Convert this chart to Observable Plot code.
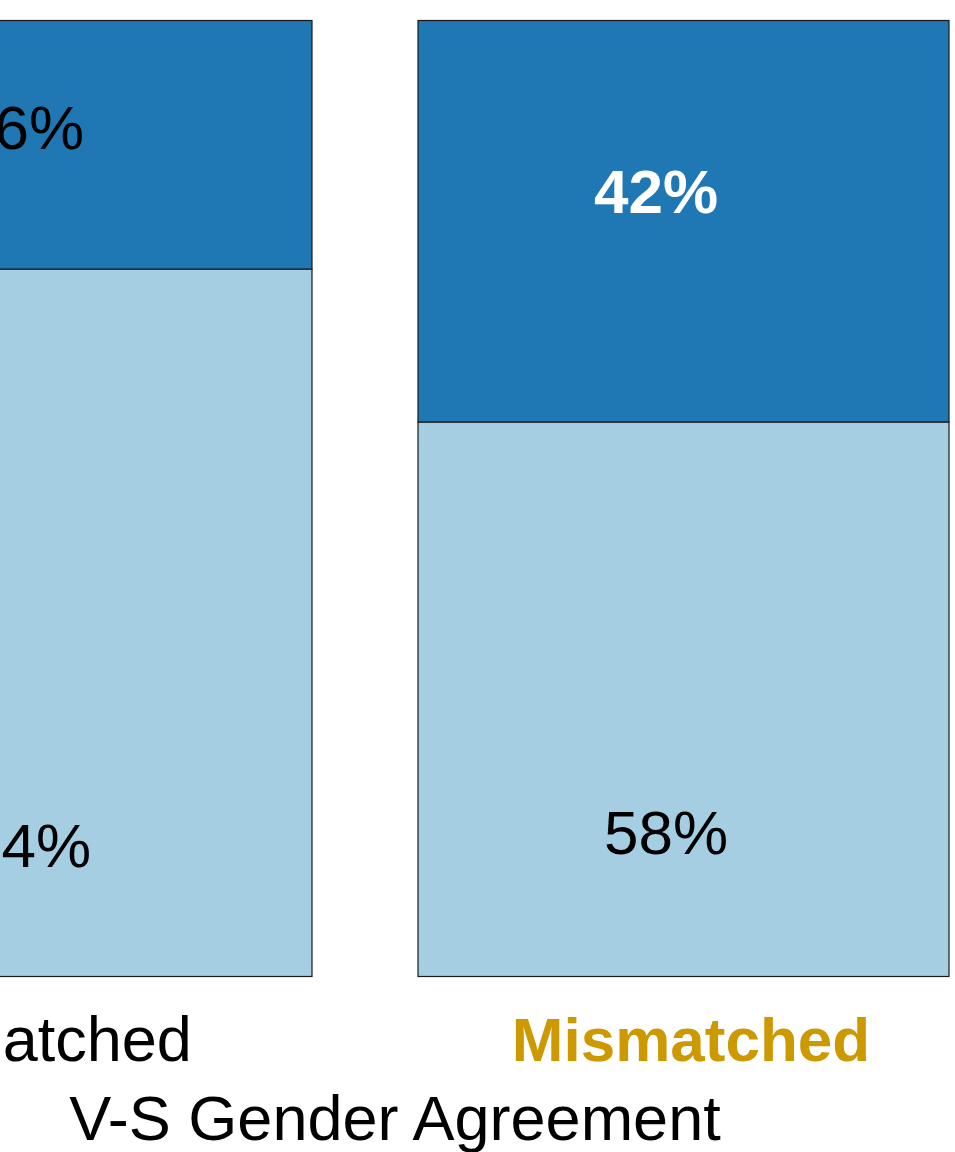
<!DOCTYPE html>
<html>
<head>
<meta charset="utf-8">
<script src="https://cdn.jsdelivr.net/npm/d3@7"></script>
<script src="https://cdn.jsdelivr.net/npm/@observablehq/plot@0.6"></script>
<style>
  html, body { margin: 0; padding: 0; background: #fff; overflow: hidden; }
  #chart svg { display: block; }
</style>
</head>
<body>
<div id="chart"></div>
<script>
// ---- data ----
const categories = ["Matched", "Mismatched"];
const segments = ["lower", "upper"];
const lowerShare = [0.74, 0.58];   // light blue part (bottom)
const upperShare = [0.26, 0.42];   // dark blue part (top)
// vertical anchor of each percentage label, in data units (0..1)
const lowerLabelAt = [0.138, 0.151];
const upperLabelAt = [0.889, 0.822];
const axisTitle = "V-S Gender Agreement";

// ---- build tables ----
const rows = [];
categories.forEach((c, i) => {
  rows.push({cat: c, seg: "lower", value: lowerShare[i]});
  rows.push({cat: c, seg: "upper", value: upperShare[i]});
});
const lowerLabels = categories.map((c, i) => ({cat: c, y: lowerLabelAt[i], text: d3.format(".0%")(lowerShare[i])}));
const upperLabels = categories.map((c, i) => ({cat: c, y: upperLabelAt[i], text: d3.format(".0%")(upperShare[i])}));

const font = "Liberation Sans, Arial, Helvetica, sans-serif";
const FS = 62;

const chart = Plot.plot({
  width: 955,
  height: 1152,
  marginTop: 20.5,
  marginBottom: 175.5,
  marginLeft: 0,
  marginRight: 0,
  style: {fontFamily: font, background: "#fff"},
  x: {domain: categories, range: [-220, 949.5], paddingInner: 0.1669, paddingOuter: 0, axis: null},
  y: {domain: [0, 1], axis: null},
  color: {domain: segments, range: ["#a6cee3", "#1f77b4"]},
  marks: [
    Plot.barY(rows, {x: "cat", y: "value", fill: "seg", stroke: "#1a1a1a", strokeWidth: 1.2, inset: 0}),
    // lower labels
    Plot.text(lowerLabels, {x: "cat", y: "y", text: "text", fontSize: FS, fill: "#000", dx: -18, dy: 2, fontFamily: font}),
    // upper labels: Matched plain, Mismatched bold white
    Plot.text(upperLabels.filter(d => d.cat === "Matched"), {x: "cat", y: "y", text: "text", fontSize: FS, fill: "#000", dx: -25, dy: 2, fontFamily: font}),
    Plot.text(upperLabels.filter(d => d.cat === "Mismatched"), {x: "cat", y: "y", text: "text", fontSize: FS, fill: "#fff", fontWeight: "bold", dx: -28, dy: 2, fontFamily: font}),
    // category labels
    Plot.text([categories[0]], {x: d => d, text: d => d, frameAnchor: "bottom", dy: 84, dx: 24, fontSize: 63, fill: "#000", fontFamily: font}),
    Plot.text([categories[1]], {x: d => d, text: d => d, frameAnchor: "bottom", dy: 84, dx: 7, fontSize: 62, fill: "#cc9900", fontWeight: "bold", fontFamily: font}),
    // axis title
    Plot.text([axisTitle], {frameAnchor: "bottom", text: d => d, dy: 163, dx: -83, fontSize: 63, fill: "#000", fontFamily: font})
  ]
});
document.getElementById("chart").appendChild(chart);
</script>
</body>
</html>
